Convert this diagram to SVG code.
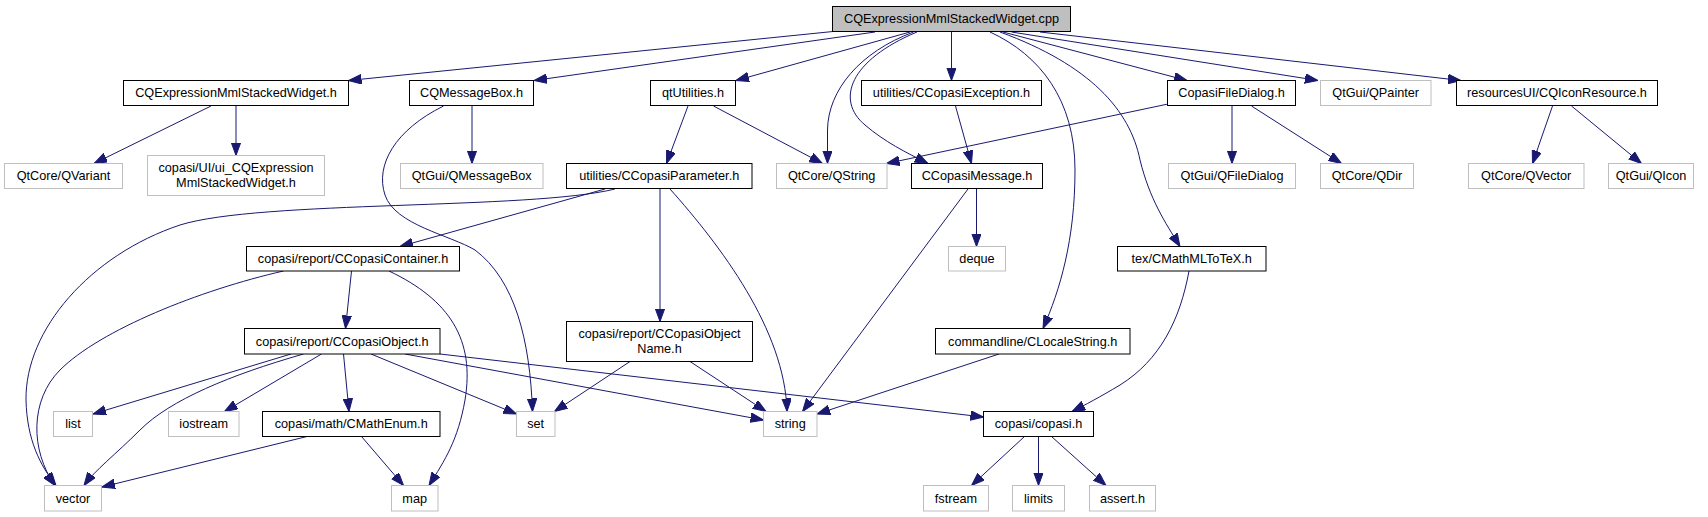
<svg xmlns="http://www.w3.org/2000/svg" width="1708" height="517" viewBox="0 0 1708 517">
<style>
rect{fill:#fff;stroke-width:1}
.b{stroke:#000}
.g{stroke:#bfbfbf}
.top{fill:#bfbfbf;stroke:#000}
text{font-family:"Liberation Sans",Arial,sans-serif;font-size:12.7px;fill:#000;text-anchor:middle}
#edges path{fill:none;stroke:#191970;stroke-width:1;marker-end:url(#ah)}
</style>
<defs>
<marker id="ah" markerUnits="userSpaceOnUse" markerWidth="13" markerHeight="10" refX="13" refY="4.75" orient="auto">
<path d="M0,0 L13,4.75 L0,9.5 z" fill="#191970" stroke="#191970" stroke-width="1"/>
</marker>
</defs>
<rect width="1708" height="517" fill="#fff" stroke="none"/>
<g id="edges">
<path d="M833,31.5 L348.5,80.5"/>
<path d="M875,32 L534,80.5"/>
<path d="M910,32 L736,80.5"/>
<path d="M913.5,32 C860,52 828,90 827.5,130 L827.5,163.5"/>
<path d="M917,32 C850,60 835,100 865,125 C885,142 905,152 928,163.5"/>
<path d="M951.5,32 L951.5,80.5"/>
<path d="M990,32 C1040,55 1075,100 1075,170 C1075,240 1060,290 1043,328.5"/>
<path d="M1000,32 C1090,65 1130,110 1140,160 C1150,200 1165,222 1180,246.5"/>
<path d="M1003,32 L1187,80.5"/>
<path d="M1011.5,32 L1318,80.5"/>
<path d="M1040,32 L1461,80.5"/>
<path d="M211,106 L94,163.5"/>
<path d="M236,106 L236,155.5"/>
<path d="M472,106 L472,163.5"/>
<path d="M443.5,106 C395,130 375,165 385,195 C395,225 450,235 475,250 C515,280 530,340 532.5,411.5"/>
<path d="M688,106 L666.5,163.5"/>
<path d="M713.5,106 L822.5,163.5"/>
<path d="M955.5,106 L971.5,163.5"/>
<path d="M1168,104 L886.5,163.5"/>
<path d="M1232,106 L1232,163.5"/>
<path d="M1251.5,106 L1341.5,163.5"/>
<path d="M1552.5,106 L1532.5,163.5"/>
<path d="M1571.5,106 L1641.5,163.5"/>
<path d="M615,189 C530,210 260,200 180,225 C90,255 25,330 26,400 C27,440 40,465 56,485.5"/>
<path d="M605,189 L400,246.5"/>
<path d="M660,189 L660,321.5"/>
<path d="M670,189 C720,245 785,330 787,411.5"/>
<path d="M976.5,189 L976.5,246.5"/>
<path d="M968,189 L802.5,411.5"/>
<path d="M283.5,271 C200,290 100,330 60,370 C30,400 30,450 55,485.5"/>
<path d="M351.5,271 L345.5,328.5"/>
<path d="M389,271 C450,300 475,340 465,400 C458,440 445,460 429,485.5"/>
<path d="M291,354 L93,414"/>
<path d="M303.5,354 C230,375 170,400 140,430 C115,455 95,470 84,485.5"/>
<path d="M321.5,354 L224.5,411.5"/>
<path d="M343.5,354 L349,411.5"/>
<path d="M371,354 L516.5,414"/>
<path d="M405,354 L763.5,420"/>
<path d="M440,354 L983.5,417"/>
<path d="M307,436.5 L102,487"/>
<path d="M361.5,436.5 L403.5,485.5"/>
<path d="M630,361.5 L554.5,411.5"/>
<path d="M690,361.5 L766,411.5"/>
<path d="M999,354 L817,414"/>
<path d="M1189,271 C1180,320 1160,360 1120,385 C1100,397 1085,405 1072,411.5"/>
<path d="M1024.5,436.5 L971.5,485.5"/>
<path d="M1038.5,436.5 L1038.5,485.5"/>
<path d="M1051.5,436.5 L1106,485.5"/>
</g>
<g id="n_cpp"><rect class="top" x="832.5" y="6.5" width="238" height="25"/><text x="951.5" y="23.3">CQExpressionMmlStackedWidget.cpp</text></g>
<g id="n_cqexprh"><rect class="b" x="123.5" y="80.5" width="225" height="25"/><text x="236" y="97.3">CQExpressionMmlStackedWidget.h</text></g>
<g id="n_msgbox"><rect class="b" x="409.5" y="80.5" width="124" height="25"/><text x="471.5" y="97.3">CQMessageBox.h</text></g>
<g id="n_qtutil"><rect class="b" x="650.5" y="80.5" width="85" height="25"/><text x="693" y="97.3">qtUtilities.h</text></g>
<g id="n_exc"><rect class="b" x="861.5" y="80.5" width="180" height="25"/><text x="951.5" y="97.3">utilities/CCopasiException.h</text></g>
<g id="n_filedlg"><rect class="b" x="1167.5" y="80.5" width="128" height="25"/><text x="1231.5" y="97.3">CopasiFileDialog.h</text></g>
<g id="n_qpainter"><rect class="g" x="1320.5" y="80.5" width="110.5" height="25"/><text x="1375.7" y="97.3">QtGui/QPainter</text></g>
<g id="n_iconres"><rect class="b" x="1456.5" y="80.5" width="201" height="25"/><text x="1557" y="97.3">resourcesUI/CQIconResource.h</text></g>
<g id="n_qvariant"><rect class="g" x="4.5" y="163.5" width="118" height="25"/><text x="63.5" y="180.3">QtCore/QVariant</text></g>
<g id="n_ui"><rect class="g" x="147.5" y="155.5" width="177" height="40"/><text x="236" y="171.8">copasi/UI/ui_CQExpression</text><text x="236" y="186.8">MmlStackedWidget.h</text></g>
<g id="n_qmsgbox"><rect class="g" x="400.5" y="163.5" width="142.5" height="25"/><text x="471.7" y="180.3">QtGui/QMessageBox</text></g>
<g id="n_param"><rect class="b" x="566.5" y="163.5" width="185.5" height="25"/><text x="659.2" y="180.3">utilities/CCopasiParameter.h</text></g>
<g id="n_qstring"><rect class="g" x="776.5" y="163.5" width="110.5" height="25"/><text x="831.7" y="180.3">QtCore/QString</text></g>
<g id="n_cmsg"><rect class="b" x="911.5" y="163.5" width="131" height="25"/><text x="977" y="180.3">CCopasiMessage.h</text></g>
<g id="n_qfiledlg"><rect class="g" x="1168.5" y="163.5" width="127" height="25"/><text x="1232" y="180.3">QtGui/QFileDialog</text></g>
<g id="n_qdir"><rect class="g" x="1320.5" y="163.5" width="93" height="25"/><text x="1367" y="180.3">QtCore/QDir</text></g>
<g id="n_qvector"><rect class="g" x="1468.5" y="163.5" width="115.5" height="25"/><text x="1526.2" y="180.3">QtCore/QVector</text></g>
<g id="n_qicon"><rect class="g" x="1608.5" y="163.5" width="85" height="25"/><text x="1651" y="180.3">QtGui/QIcon</text></g>
<g id="n_container"><rect class="b" x="246.5" y="246.5" width="213" height="24.5"/><text x="353" y="263">copasi/report/CCopasiContainer.h</text></g>
<g id="n_deque"><rect class="g" x="948.5" y="246.5" width="57" height="24.5"/><text x="977" y="263">deque</text></g>
<g id="n_mathml"><rect class="b" x="1117.5" y="246.5" width="148.5" height="24.5"/><text x="1191.7" y="263">tex/CMathMLToTeX.h</text></g>
<g id="n_object"><rect class="b" x="244.5" y="328.5" width="195.5" height="25.5"/><text x="342.2" y="345.5">copasi/report/CCopasiObject.h</text></g>
<g id="n_objname"><rect class="b" x="566.5" y="321.5" width="186" height="40"/><text x="659.5" y="337.6">copasi/report/CCopasiObject</text><text x="659.5" y="352.6">Name.h</text></g>
<g id="n_locale"><rect class="b" x="935.5" y="328.5" width="194.5" height="25.5"/><text x="1032.7" y="345.5">commandline/CLocaleString.h</text></g>
<g id="n_list"><rect class="g" x="53.5" y="411.5" width="39" height="25"/><text x="73" y="428.3">list</text></g>
<g id="n_iostream"><rect class="g" x="168.5" y="411.5" width="70.5" height="25"/><text x="203.7" y="428.3">iostream</text></g>
<g id="n_mathenum"><rect class="b" x="262.5" y="411.5" width="177.5" height="25"/><text x="351.2" y="428.3">copasi/math/CMathEnum.h</text></g>
<g id="n_set"><rect class="g" x="516.5" y="411.5" width="38.5" height="25"/><text x="535.7" y="428.3">set</text></g>
<g id="n_string"><rect class="g" x="763.5" y="411.5" width="53.5" height="25"/><text x="790.2" y="428.3">string</text></g>
<g id="n_copasi"><rect class="b" x="983.5" y="411.5" width="110" height="25"/><text x="1038.5" y="428.3">copasi/copasi.h</text></g>
<g id="n_vector"><rect class="g" x="44.5" y="485.5" width="57" height="25.5"/><text x="73" y="502.5">vector</text></g>
<g id="n_map"><rect class="g" x="391.5" y="485.5" width="46.5" height="25.5"/><text x="414.7" y="502.5">map</text></g>
<g id="n_fstream"><rect class="g" x="923.5" y="485.5" width="65" height="25.5"/><text x="956" y="502.5">fstream</text></g>
<g id="n_limits"><rect class="g" x="1012.5" y="485.5" width="52" height="25.5"/><text x="1038.5" y="502.5">limits</text></g>
<g id="n_assert"><rect class="g" x="1089.5" y="485.5" width="66" height="25.5"/><text x="1122.5" y="502.5">assert.h</text></g>
</svg>
